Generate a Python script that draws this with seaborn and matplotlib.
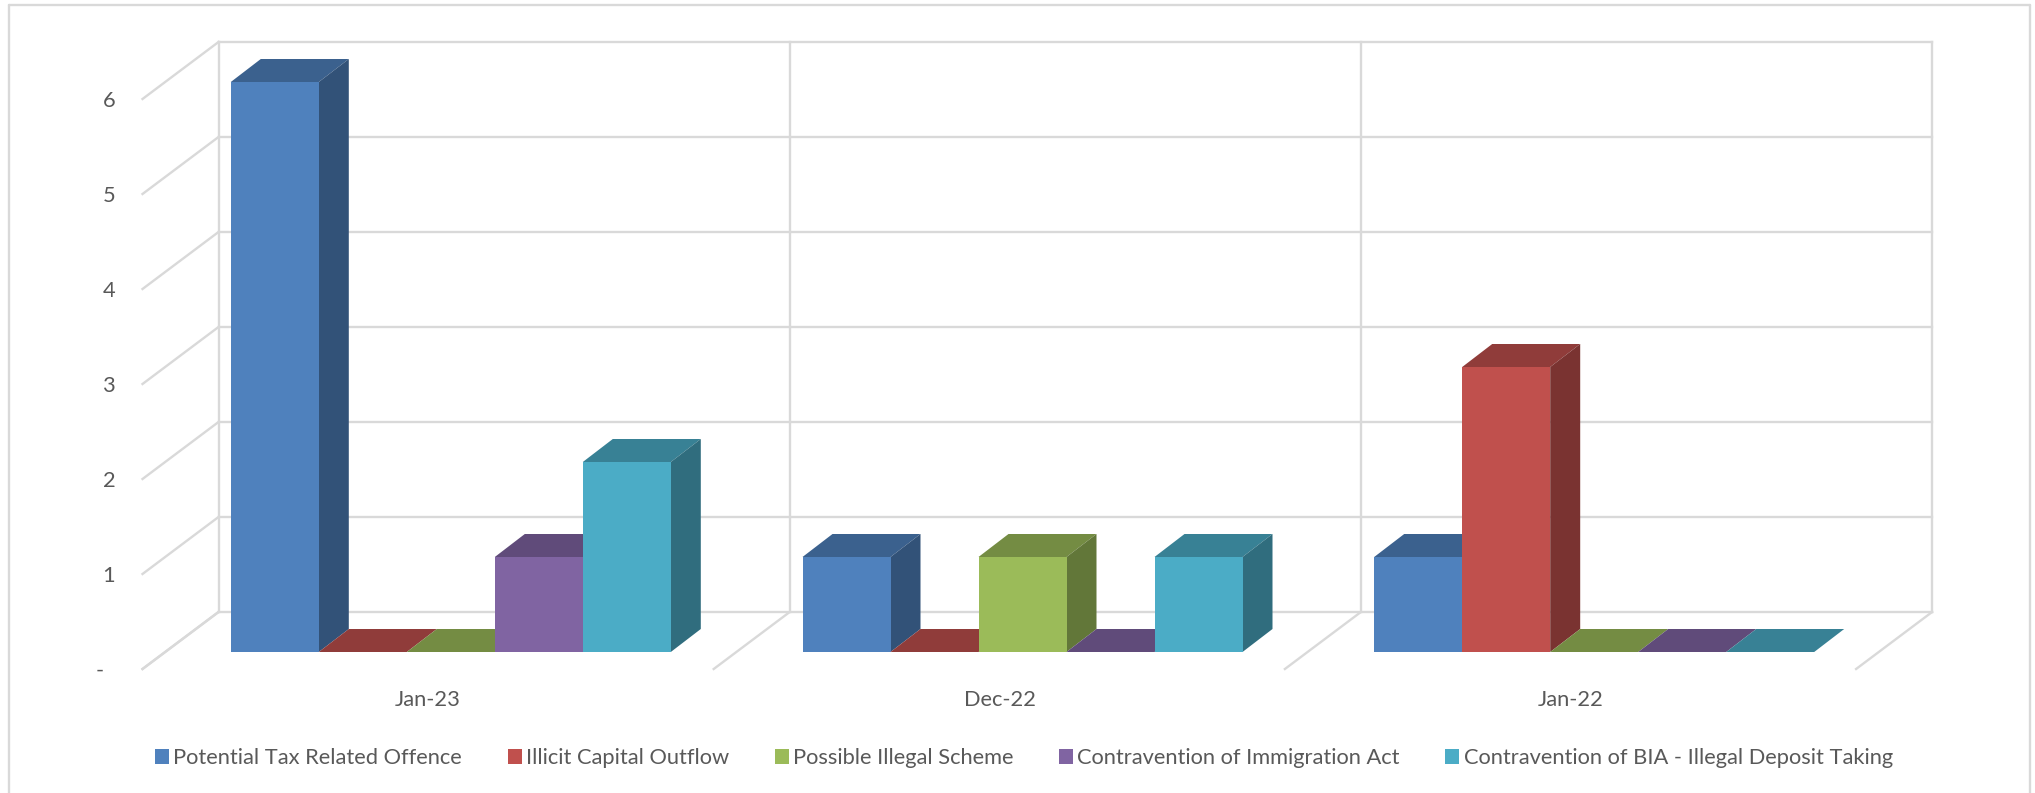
import matplotlib
matplotlib.use("Agg")
import matplotlib.pyplot as plt
from matplotlib.lines import Line2D
from matplotlib.patches import Polygon
from matplotlib.transforms import ScaledTranslation
import numpy as np
import pandas as pd
import seaborn as sns

# ---- data ----
periods = ["Jan-23", "Dec-22", "Jan-22"]
series_names = [
    "Potential Tax Related Offence",
    "Illicit Capital Outflow",
    "Possible Illegal Scheme",
    "Contravention of Immigration Act",
    "Contravention of BIA - Illegal Deposit Taking",
]
tax_offence = [6, 1, 1]
capital_outflow = [0, 0, 3]
illegal_scheme = [0, 1, 0]
immigration_act = [1, 0, 0]
deposit_taking = [2, 1, 0]
y_tick_values = [0, 1, 2, 3, 4, 5, 6]
y_tick_labels = ["-  ", "1", "2", "3", "4", "5", "6"]
colors = ["#4F81BD", "#C0504D", "#9BBB59", "#8064A2", "#4BACC6"]

# ---- style ----
W, H = 2035, 793
DPI = 100
GRID = "#D9D9D9"
TEXT = "#595959"
sns.set_style("white")
plt.rcParams["font.family"] = ["Lato", "DejaVu Sans"]
FS = 15.75

# pixel geometry of the pseudo-3D projection
UX, UY = 571.7, 95.0          # px per category / per value unit
X0_PX, Y0_PX = 450.8, 652.0   # px of category 0, value 0 in the bars' front plane
WALL_X0_PX, WALL_STEP_PX = 218.5, 571.2
BAR_DX, BAR_DY = 30 / UX, 23 / UY
FRONT_DX, FRONT_DY = -76 / UX, -57 / UY   # from back wall to front of the floor
BACK_DY = 40 / UY

frame = pd.DataFrame({
    "period": np.repeat(periods, len(series_names)),
    "series": series_names * len(periods),
    "value": np.array([tax_offence, capital_outflow, illegal_scheme,
                       immigration_act, deposit_taking]).T.ravel(),
})

fig = plt.figure(figsize=(W / DPI, H / DPI), dpi=DPI, facecolor="white")
L, R, T, B = 125, 1945, 30, 680
ax = fig.add_axes([L / W, (H - B) / H, (R - L) / W, (B - T) / H])

sns.barplot(data=frame, x="period", y="value", hue="series", order=periods,
            hue_order=series_names, palette=colors, saturation=1, width=440 / UX,
            gap=0, linewidth=0, errorbar=None, dodge=True, ax=ax)
handles, labels = ax.get_legend_handles_labels()
ax.get_legend().remove()

ax.set_xlim((L - X0_PX) / UX, (R - X0_PX) / UX)
ax.set_ylim((Y0_PX - B) / UY, (Y0_PX - T) / UY)
ax.set_autoscale_on(False)

# ---- walls and floor ----
line_kw = dict(color=GRID, lw=1.7, zorder=1, solid_capstyle="projecting")
wall_x = [(WALL_X0_PX + WALL_STEP_PX * i - X0_PX) / UX for i in range(len(periods) + 1)]
top = max(y_tick_values)
for v in y_tick_values:
    ax.plot([wall_x[0], wall_x[-1]], [v + BACK_DY] * 2, **line_kw)
    ax.plot([wall_x[0] + FRONT_DX, wall_x[0]],
            [v + BACK_DY + FRONT_DY, v + BACK_DY], **line_kw)
for e in wall_x:
    ax.plot([e] * 2, [BACK_DY, top + BACK_DY], **line_kw)
    ax.plot([e + FRONT_DX, e], [BACK_DY + FRONT_DY, BACK_DY], **line_kw)


def shade(color, k):
    return tuple(k * c for c in matplotlib.colors.to_rgb(color))


# ---- bar depth faces built from the bars seaborn drew ----
bars = sorted([p for p in ax.patches], key=lambda p: p.get_x())
for i, bar in enumerate(bars):
    x0, x1 = bar.get_x(), bar.get_x() + bar.get_width()
    h = bar.get_height()
    face = bar.get_facecolor()
    base = 3 + i * 3
    bar.set_zorder(base + 2)
    ax.add_patch(Polygon([(x0, h), (x1, h), (x1 + BAR_DX, h + BAR_DY), (x0 + BAR_DX, h + BAR_DY)],
                         closed=True, fc=shade(face, 0.75), ec="none", zorder=base))
    if h > 0:
        ax.add_patch(Polygon([(x1, 0), (x1 + BAR_DX, BAR_DY), (x1 + BAR_DX, h + BAR_DY), (x1, h)],
                             closed=True, fc=shade(face, 0.635), ec="none", zorder=base + 1))

# ---- axes furniture ----
sns.despine(ax=ax, left=True, bottom=True)
ax.set_xlabel("")
ax.set_ylabel("")
ax.set_yticks(y_tick_values)
ax.set_yticklabels(y_tick_labels)
ax.tick_params(axis="both", length=0, labelsize=FS, labelcolor=TEXT)
ax.tick_params(axis="x", pad=7)
ax.tick_params(axis="y", pad=7)
x_shift = ScaledTranslation(-23 / DPI, 0, fig.dpi_scale_trans)
y_shift = ScaledTranslation(0, -17 / DPI, fig.dpi_scale_trans)
for lab in ax.get_xticklabels():
    lab.set_transform(lab.get_transform() + x_shift)
for lab in ax.get_yticklabels():
    lab.set_transform(lab.get_transform() + y_shift)

# ---- legend ----
fig.legend(handles, labels, loc="center", bbox_to_anchor=(1024 / W, (H - 758) / H),
           ncol=5, frameon=False, fontsize=FS, labelcolor=TEXT, handlelength=0.64,
           handleheight=0.64, handletextpad=0.2, columnspacing=2.08, borderpad=0)

# ---- outer chart border (open at the cropped bottom) ----
border = dict(color=GRID, lw=1.7, transform=fig.transFigure)
for xs, ys in [((9, 9), (H, 5)), ((9, 2030), (5, 5)), ((2030, 2030), (5, H))]:
    fig.add_artist(Line2D([x / W for x in xs], [(H - y) / H for y in ys], **border))

fig.savefig("out.png", dpi=DPI, facecolor="white")
